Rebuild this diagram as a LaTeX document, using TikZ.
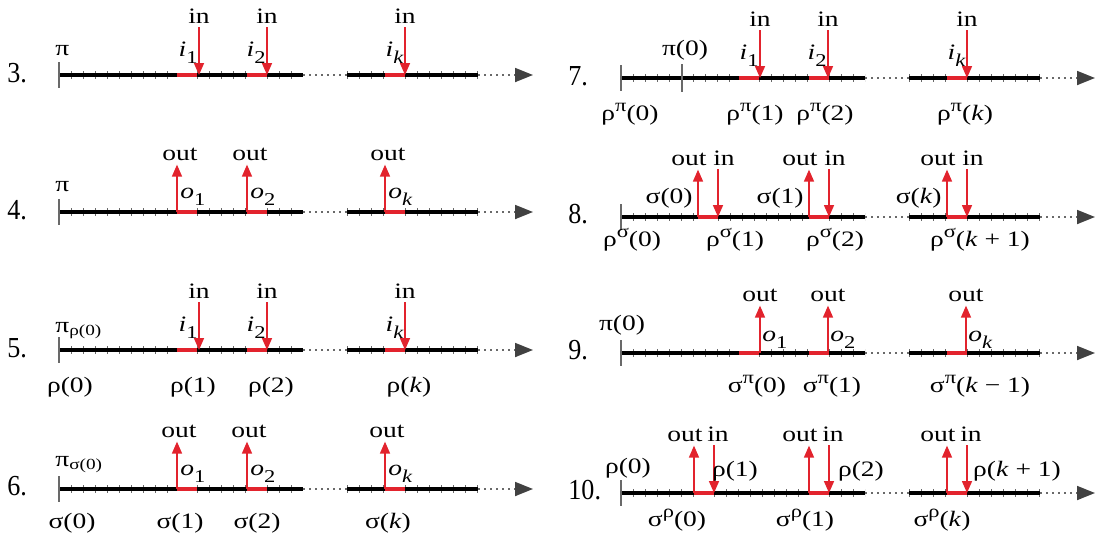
\documentclass[tikz,border=0pt]{standalone}
\usepackage{fontspec}
\setmainfont{Liberation Serif}[FakeStretch=1.25]
\newfontfamily\numfont{Liberation Serif}[FakeStretch=0.9]
\usepackage{xcolor}
\definecolor{mkred}{RGB}{226,35,45}
\definecolor{axgray}{RGB}{105,105,105}
\definecolor{tipgray}{RGB}{65,65,65}
\usepackage{tikz}
\usetikzlibrary{arrows.meta,positioning}

\newcommand{\subtxt}[1]{\raisebox{-3.5pt}{\fontsize{9pt}{10pt}\selectfont #1}}
\newcommand{\suptxt}[1]{\raisebox{4.5pt}{\fontsize{9pt}{10pt}\selectfont #1}}

% one time axis; #1 = left end of the first red part
\newcommand{\rowaxis}[1]{%
  \draw[minorticks] (0,0) -- (#1,0) (#1+20,0) -- (188,0) (208,0) -- (244,0)
        (288,0) -- (326,0) (346,0) -- (419,0);
  \draw[axisline] (0,0) -- (#1,0) (#1+20,0) -- (188,0) (208,0) -- (244,0)
        (288,0) -- (326,0) (346,0) -- (419,0);
  \draw[redpart] (#1,0) -- (#1+20,0) (188,0) -- (208,0) (326,0) -- (346,0);
  \draw[gapline] (244,0) -- (288,0);
  \draw[gapline,-{Triangle[length=9pt,width=7pt,color=tipgray]}] (419,0) -- (474,0);
  \draw[startbar] (0,-13) -- (0,13);
}

\begin{document}
\begin{tikzpicture}[
  x=0.5pt, y=-0.5pt,
  font=\fontsize{11pt}{13pt}\selectfont,
  >={Triangle[length=6pt,width=5pt]},
  axisline/.style={line width=1.6pt,black},
  minorticks/.style={line width=4pt,axgray,dash pattern=on 0.5pt off 5.5pt},
  redpart/.style={line width=1.6pt,mkred},
  gapline/.style={line width=0.9pt,axgray,dash pattern=on 0.9pt off 2.1pt},
  startbar/.style={axgray,line width=0.6pt},
  ar/.style={->,mkred,line width=0.8pt},
  io/.style={anchor=base,inner sep=2pt},
  num/.style={anchor=base west,inner sep=0pt,font=\numfont\fontsize{14.5pt}{16pt}\selectfont},
  lab/.style={anchor=base,inner sep=0pt},
]
\useasboundingbox (0,0) rectangle (1097,537);

% 3: pi with inputs
\begin{scope}[shift={(59,75)}]
  \rowaxis{118}
  \node[num] (n3) at (-52,7) {3.};
  \node[lab,anchor=base west] (pi3) at (-4,-20) {π};
  \foreach \x/\sb [count=\idx] in {140/1,208/2,346/\textit{k}} {
    \coordinate (c3\idx) at (\x,0);
    \node[io] (in3\idx) at (\x,-52) {in};
    \draw[ar] (c3\idx |- in3\idx.south) -- (c3\idx);
    \node[lab,anchor=base east] (i3\idx) at (\x-1,-19) {\textit{i}\subtxt{\sb}};
  }
\end{scope}

% 4: pi with outputs
\begin{scope}[shift={(59,212)}]
  \rowaxis{118}
  \node[num] (n4) at (-52,7) {4.};
  \node[lab,anchor=base west] (pi4) at (-4,-21) {π};
  \foreach \x/\sb [count=\idx] in {118/1,188/2,326/\textit{k}} {
    \coordinate (c4\idx) at (\x,0);
    \node[io] (out4\idx) at (\x+3,-52) {out};
    \draw[ar] (c4\idx) -- (c4\idx |- out4\idx.south);
    \node[lab,anchor=base west] (o4\idx) at (\x+3,-14) {\textit{o}\subtxt{\sb}};
  }
\end{scope}

% 5: pi_rho(0)
\begin{scope}[shift={(59,350)}]
  \rowaxis{118}
  \node[num] (n5) at (-52,7) {5.};
  \node[lab,anchor=base west] (pi5) at (-4,-18) {π\textsubscript{ρ(0)}};
  \foreach \x/\sb [count=\idx] in {140/1,208/2,346/\textit{k}} {
    \coordinate (c5\idx) at (\x,0);
    \node[io] (in5\idx) at (\x,-52) {in};
    \draw[ar] (c5\idx |- in5\idx.south) -- (c5\idx);
    \node[lab,anchor=base east] (i5\idx) at (\x-1,-19) {\textit{i}\subtxt{\sb}};
  }
  \foreach \x/\lbl [count=\idx] in {11/ρ(0),134/ρ(1),212/ρ(2),350/ρ(\textit{k})}
    \node[lab] (r5\idx) at (\x,42) {\lbl};
\end{scope}

% 6: pi_sigma(0)
\begin{scope}[shift={(59,489)}]
  \rowaxis{118}
  \node[num] (n6) at (-52,6) {6.};
  \node[lab,anchor=base west] (pi6) at (-4,-23) {π\textsubscript{σ(0)}};
  \foreach \x/\sb [count=\idx] in {118/1,188/2,326/\textit{k}} {
    \coordinate (c6\idx) at (\x,0);
    \node[io] (out6\idx) at (\x+2,-52) {out};
    \draw[ar] (c6\idx) -- (c6\idx |- out6\idx.south);
    \node[lab,anchor=base west] (o6\idx) at (\x+3,-14) {\textit{o}\subtxt{\sb}};
  }
  \foreach \x/\lbl [count=\idx] in {13/σ(0),121/σ(1),198/σ(2),329/σ(\textit{k})}
    \node[lab] (s6\idx) at (\x,39) {\lbl};
\end{scope}

% 7: rho^pi
\begin{scope}[shift={(621,78)}]
  \rowaxis{118}
  \draw[startbar] (61,-14) -- (61,14);
  \node[num] (n7) at (-53,7) {7.};
  \node[lab] (pz7) at (64,-23) {π(0)};
  \foreach \x/\sb [count=\idx] in {139/1,207/2,346/\textit{k}} {
    \coordinate (c7\idx) at (\x,0);
    \node[io] (in7\idx) at (\x,-52) {in};
    \draw[ar] (c7\idx |- in7\idx.south) -- (c7\idx);
    \node[lab,anchor=base east] (i7\idx) at (\x-1,-19) {\textit{i}\subtxt{\sb}};
  }
  \foreach \x/\lbl [count=\idx] in {9/0,134/1,204/2,344/\textit{k}}
    \node[lab] (r7\idx) at (\x,42) {ρ\suptxt{π}(\lbl)};
\end{scope}

% 8: rho^sigma
\begin{scope}[shift={(621,217)}]
  \rowaxis{77}
  \node[num] (n8) at (-53,6) {8.};
  \foreach \o/\i/\lbl [count=\idx] in {77/97/0,188/208/1,326/346/\textit{k}} {
    \coordinate (co8\idx) at (\o,0);
    \coordinate (ci8\idx) at (\i,0);
    \node[io] (out8\idx) at (\o-9,-52) {out};
    \node[io] (in8\idx) at (\i+6,-52) {in};
    \draw[ar] (co8\idx) -- (co8\idx |- out8\idx.south);
    \draw[ar] (ci8\idx |- in8\idx.south) -- (ci8\idx);
    \node[lab,anchor=base east] (s8\idx) at (\o-5,-14) {σ(\lbl)};
  }
  \foreach \x/\lbl [count=\idx] in {11/0,114/1,214/2,359/\textit{k} + 1}
    \node[lab] (r8\idx) at (\x,29) {ρ\suptxt{σ}(\lbl)};
\end{scope}

% 9: sigma^pi
\begin{scope}[shift={(621,353)}]
  \rowaxis{118}
  \node[num] (n9) at (-53,6) {9.};
  \node[lab] (pz9) at (1,-23) {π(0)};
  \foreach \x/\sb [count=\idx] in {139/1,207/2,345/\textit{k}} {
    \coordinate (c9\idx) at (\x,0);
    \node[io] (out9\idx) at (\x,-52) {out};
    \draw[ar] (c9\idx) -- (c9\idx |- out9\idx.south);
    \node[lab,anchor=base west] (o9\idx) at (\x+2,-12) {\textit{o}\subtxt{\sb}};
  }
  \foreach \x/\lbl [count=\idx] in {136/0,211/1,359/\textit{k} − 1}
    \node[lab] (s9\idx) at (\x,39) {σ\suptxt{π}(\lbl)};
\end{scope}

% 10: sigma^rho
\begin{scope}[shift={(621,493)}]
  \rowaxis{73}
  \node[num] (n10) at (-53,6) {10.};
  \node[lab] (rz10) at (7,-20) {ρ(0)};
  \foreach \o/\i/\x/\lbl [count=\idx] in {73/93/114/1,188/208/240/2,326/346/396/\textit{k} + 1} {
    \coordinate (co10\idx) at (\o,0);
    \coordinate (ci10\idx) at (\i,0);
    \node[io] (out10\idx) at (\o-9,-52) {out};
    \node[io] (in10\idx) at (\i+4,-52) {in};
    \draw[ar] (co10\idx) -- (co10\idx |- out10\idx.south);
    \draw[ar] (ci10\idx |- in10\idx.south) -- (ci10\idx);
    \node[lab] (r10\idx) at (\x,-17) {ρ(\lbl)};
  }
  \foreach \x/\lbl [count=\idx] in {56/0,184/1,321/\textit{k}}
    \node[lab] (s10\idx) at (\x,33) {σ\suptxt{ρ}(\lbl)};
\end{scope}
\end{tikzpicture}
\end{document}
